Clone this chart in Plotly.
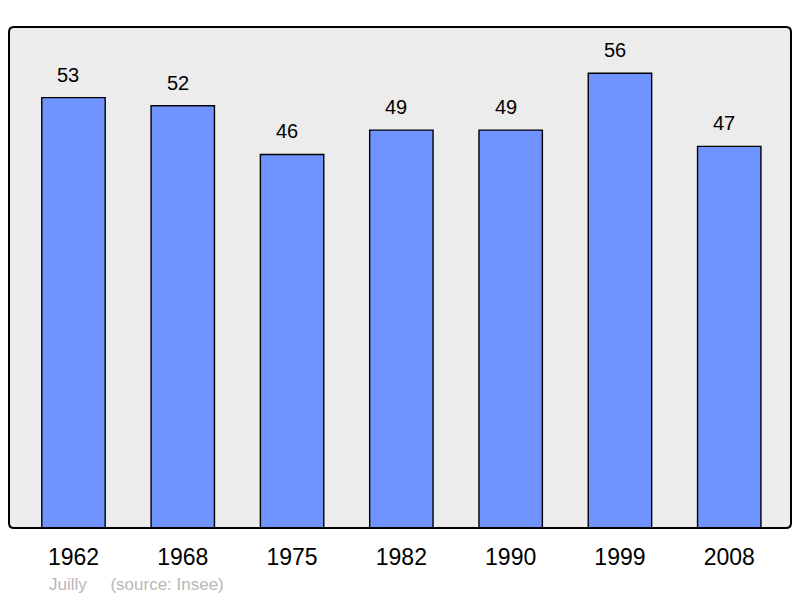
import plotly.graph_objects as go

years = ["1962", "1968", "1975", "1982", "1990", "1999", "2008"]
population = [53, 52, 46, 49, 49, 56, 47]

# page has an 8px body margin; compensate so the picture lines up
OFF = 8
W, H = 800 - OFF, 598 - OFF
ml, mt = 9 - OFF, 27 - OFF
pw, ph = 782, 501
mr, mb = W - ml - pw, H - mt - ph

FONT = "Liberation Sans, Arial, sans-serif"

fig = go.Figure()
fig.add_trace(go.Bar(
    x=list(range(len(years))), y=population,
    width=0.58,
    marker=dict(color="#7094ff", line=dict(color="#000000", width=1.4)),
    hoverinfo="skip",
))

for i, v in enumerate(population):
    fig.add_annotation(x=i, y=v, text=str(v), showarrow=False,
                       yanchor="bottom", yshift=10, xshift=-5,
                       font=dict(family=FONT, size=20, color="#000"))

fig.add_annotation(xref="paper", yref="paper", x=(47 - 9) / pw,
                   y=-(584 - 528) / ph, xanchor="left", yanchor="middle",
                   text="Juilly&nbsp;&nbsp;&nbsp;&nbsp;&nbsp;(source: Insee)", showarrow=False,
                   font=dict(family=FONT, size=17, color="#b8b8b8"))

# rounded plot frame
rx, ry = 5 / pw, 5 / ph
path = (f"M {rx},0 L {1-rx},0 Q 1,0 1,{ry} L 1,{1-ry} Q 1,1 {1-rx},1 "
        f"L {rx},1 Q 0,1 0,{1-ry} L 0,{ry} Q 0,0 {rx},0 Z")
fig.add_shape(type="path", xref="paper", yref="paper", path=path,
              line=dict(color="#000", width=2), layer="above")

fig.update_layout(
    width=W, height=H,
    margin=dict(l=ml, r=mr, t=mt, b=mb),
    paper_bgcolor="#ffffff", plot_bgcolor="#ececec",
    showlegend=False,
    xaxis=dict(range=[-0.59, 6.565], tickmode="array", tickvals=list(range(len(years))),
               ticktext=years, showgrid=False, zeroline=False, ticks="outside",
               ticklen=8, tickcolor="rgba(0,0,0,0)",
               tickfont=dict(family=FONT, size=23, color="#000")),
    yaxis=dict(range=[0, 61.7], showgrid=False, zeroline=False, showticklabels=False),
)

fig.write_html("out.html")
